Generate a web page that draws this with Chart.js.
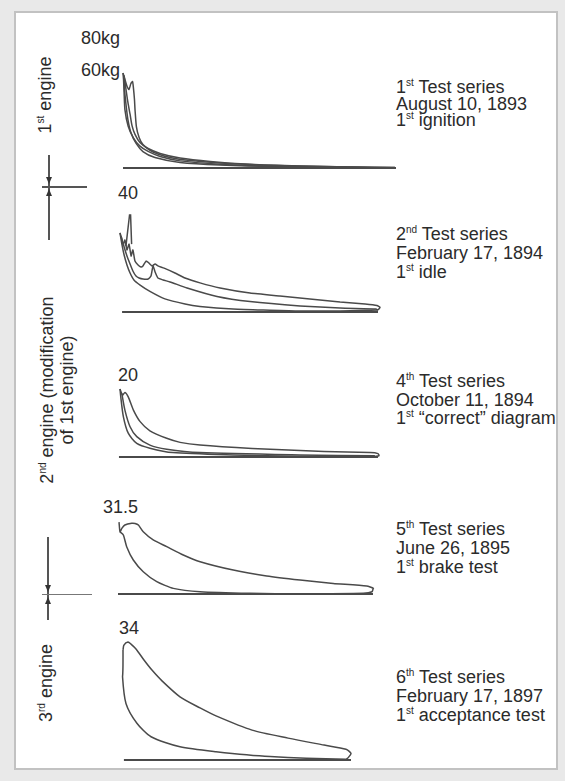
<!DOCTYPE html>
<html><head><meta charset="utf-8">
<script src="https://cdn.jsdelivr.net/npm/chart.js@4.4.1/dist/chart.umd.min.js"></script>
<style>
html,body{margin:0;padding:0;}
body{width:565px;height:781px;background:#e9e9e9;position:relative;overflow:hidden;font-family:"Liberation Sans",Arial,sans-serif;color:#2b2b2b;}
#frame{position:absolute;left:14px;top:11px;width:540px;height:755px;background:#fff;border:2px solid #c2c2c2;}
.t{position:absolute;font-size:18px;line-height:18px;white-space:nowrap;}
.blk{position:absolute;left:396px;font-size:18px;white-space:nowrap;}
sup{font-size:10px;line-height:0;vertical-align:0;position:relative;top:-7px;}
canvas{position:absolute;}
.rot{position:absolute;transform:rotate(-90deg);transform-origin:50% 50%;text-align:center;font-size:18px;white-space:nowrap;}
.ln{position:absolute;background:#555;}
.ad{position:absolute;width:0;height:0;border-left:3px solid transparent;border-right:3px solid transparent;border-top:7px solid #333;}
.au{position:absolute;width:0;height:0;border-left:3px solid transparent;border-right:3px solid transparent;border-bottom:7px solid #333;}
</style>
</head><body>
<div id="frame"></div>

<div class="t" style="left:81px;top:29px">80kg</div>
<div class="t" style="left:81px;top:61px">60kg</div>
<div class="t" style="left:118px;top:184px">40</div>
<div class="t" style="left:118px;top:366px">20</div>
<div class="t" style="left:103px;top:498px">31.5</div>
<div class="t" style="left:119px;top:619px">34</div>

<div class="blk" style="top:79px;line-height:16.5px">1<sup>st</sup> Test series<br>August 10, 1893<br>1<sup>st</sup> ignition</div>
<div class="blk" style="top:225px;line-height:19px">2<sup>nd</sup> Test series<br>February 17, 1894<br>1<sup>st</sup> idle</div>
<div class="blk" style="top:372px;line-height:18.5px">4<sup>th</sup> Test series<br>October 11, 1894<br>1<sup>st</sup> “correct” diagram</div>
<div class="blk" style="top:520px;line-height:19px">5<sup>th</sup> Test series<br>June 26, 1895<br>1<sup>st</sup> brake test</div>
<div class="blk" style="top:668px;line-height:19px">6<sup>th</sup> Test series<br>February 17, 1897<br>1<sup>st</sup> acceptance test</div>

<div class="rot" style="left:-15px;top:86px;width:120px;height:18px;line-height:18px">1<sup>st</sup> engine</div>
<div class="rot" style="left:-53px;top:370px;width:220px;height:40px;line-height:20px">2<sup>nd</sup> engine (modification<br>of 1st engine)</div>
<div class="rot" style="left:-14px;top:674px;width:120px;height:18px;line-height:18px">3<sup>rd</sup> engine</div>

<!-- pressure-scale markers -->
<div class="ln" style="left:48px;top:155px;width:1.5px;height:85px"></div>
<div class="ln" style="left:42px;top:186px;width:45px;height:1.5px"></div>
<div class="ad" style="left:46px;top:177px"></div>
<div class="au" style="left:46px;top:189px"></div>
<div class="ln" style="left:47px;top:537px;width:1.5px;height:83px"></div>
<div class="ln" style="left:42px;top:594px;width:50px;height:1.2px;background:#777"></div>
<div class="ad" style="left:45px;top:585px"></div>
<div class="au" style="left:45px;top:597px"></div>

<script>
// volume (% of stroke) , pressure (kg/cm²) pairs
const atmos = [[0,0],[100,0]];

// 1st test series, August 10, 1893 (scale 60)
const p1ExpA = [[0,60],[0.7,55.9],[1.5,51.5],[2.2,49.6],[2.9,53.4],[3.5,54.6],[3.8,50.9],[4.2,43.3],[4.4,36.9],[4.9,26.2],[5.9,19.3],[7.3,14.8],[9.9,11.1],[12.5,9.0],[17.2,6.6],[24.5,4.7],[35.5,3.2],[50.2,1.9],[68.5,1.1],[86.8,0.6],[99.6,0.3]];
const p1ComA = [[99.6,0.3],[83.2,0.2],[64.8,0.6],[50.2,1.2],[35.5,2.3],[20.9,4.5],[13.6,7.3],[9.2,10.5],[6.2,13.8],[3.8,19.1],[1.9,26.4],[0.7,36.9],[0.4,47.7],[0.2,55.9],[0,60]];
const p1ExpB = [[0.4,58.4],[1.1,49.6],[1.8,41.4],[2.6,33.8],[3.3,26.8],[4.4,21.2],[6.2,16.1],[9.2,12.3],[13.6,9.2],[20.9,6.3],[31.9,4.1],[46.5,2.3],[64.8,1.2],[83.2,0.6],[98.9,0.2]];
const p1ComB = [[98.9,0.2],[57.5,0.9],[35.5,1.9],[20.9,3.5],[11.7,6.6],[7.3,10.4],[4.8,15.5],[2.9,22.4],[1.8,30.6],[1.1,40.1],[0.5,50.9],[0.4,58.4]];

// 2nd test series, February 17, 1894 (scale 40)
const p2ExpA = [[0,32.6],[0.6,30.5],[1.2,27.6],[1.9,29.7],[2.7,25.6],[3.5,28.0],[4.3,23.1],[5.0,25.6],[5.8,21.0],[7.0,19.4],[8.1,18.6],[8.9,19.0],[10.1,21.0],[11.2,20.2],[12.4,19.0],[13.6,19.8],[14.7,19.0],[17.1,18.1],[21.3,16.1],[25.2,14.0],[31.0,12.0],[38.8,9.9],[50.4,7.8],[62.0,6.6],[73.6,5.4],[85.3,4.1],[95.0,3.3],[99.6,2.7],[100.8,1.9],[100,0.8]];
const p2Com = [[100,0.8],[85.3,0.4],[69.8,0.4],[58.1,0.7],[43.8,1.2],[31.0,2.3],[25.2,3.3],[17.4,5.4],[11.6,8.5],[7.8,11.1],[5.4,13.2],[3.9,16.1],[2.7,19.4],[1.6,23.5],[0.8,27.6],[0,32.6]];
const p2ExpB = [[0.4,31.3],[1.6,26.8],[2.7,23.1],[3.9,19.8],[5.0,16.9],[6.2,14.8],[7.4,14.0],[8.9,13.6],[10.9,13.6],[12.0,14.8],[12.8,19.0],[13.6,16.5],[14.7,14.0],[16.7,13.2],[19.4,12.4],[26.0,9.9],[37.6,6.4],[50.4,4.3],[69.8,2.5],[85.3,1.6],[99.2,1.2],[100,0.8]];
const p2Spike = [[2.3,27.2],[3.7,40],[4.1,40],[4.5,28.0]];

// 4th test series, October 11, 1894 (scale 20)
const p3Exp = [[0,20],[1.0,18.2],[1.9,19.0],[3.2,17.7],[5.2,13.8],[7.8,10.4],[11.6,7.7],[18.1,5.5],[23.3,4.3],[31.0,3.5],[51.2,2.5],[69.8,1.9],[79.1,1.6],[96.9,1.3],[100,1.0],[100.4,0.4],[98.8,0.15]];
const p3Com = [[98.8,0.15],[69.8,0.2],[43.8,0.6],[20.5,1.3],[11.6,2.6],[6.5,4.0],[3.2,7.0],[1.3,11.9],[0.3,17.7],[0,20]];
const p3Mid = [[0.7,18.7],[1.9,13.8],[3.9,8.9],[6.5,6.0],[11.6,3.5],[18.1,2.3],[31.0,1.3],[69.8,0.6],[98.8,0.35]];
const p3Atm = [[-0.4,0],[100,0]];

// 5th test series, June 26, 1895 (scale 31.5)
const p4Loop = [[0.4,31.9],[0.8,27.5],[1.5,29.1],[2.7,30.6],[5.4,31.4],[6.7,31.3],[8.0,30.6],[9.9,27.6],[13.8,24.0],[19.1,21.0],[25.6,17.3],[32.2,14.3],[45.2,10.6],[58.3,8.0],[71.4,6.2],[84.4,4.7],[97.5,3.5],[100.1,2.5],[99.6,1.0],[96.2,0.3],[71.4,0.1],[51.8,0.3],[32.2,1.0],[21.7,2.5],[15.2,5.5],[9.9,9.9],[6.0,15.1],[3.4,21.0],[2.1,26.2],[0.8,27.5]];

// 6th test series, February 17, 1897 (scale 34)
const p5Exp = [[0,31.7],[0.4,33.1],[2.2,34.0],[3.5,33.4],[5.7,32.0],[9.2,28.8],[12.7,25.9],[17.1,22.8],[25.0,18.2],[33.8,15.0],[40.8,12.7],[56.6,8.6],[72.4,6.3],[88.2,4.3],[97.8,3.1],[100,1.9],[98.7,0.6]];
const p5Com = [[98.7,0.6],[97.8,0.2],[64.5,1.0],[40.8,2.4],[25.0,3.8],[12.3,6.7],[6.1,10.6],[1.3,16.3],[-0.2,24.0],[0,28.8],[0,31.7]];
const p5Atm = [[0.4,0],[100,0]];

const INK = '#4a4a4a';
function ds(pairs, tension, w){
  return {data: pairs.map(p=>({x:p[0],y:p[1]})), showLine:true, pointRadius:0, borderColor:INK,
          borderWidth:w||1.5, tension:tension, clip:false, fill:false};
}
function panel(x0, x1, yTop, yBase, ymax, sets){
  const pad = 10;
  const c = document.createElement('canvas');
  const w = (x1-x0)+2*pad, h = (yBase-yTop)+2*pad;
  c.width = w; c.height = h;
  c.style.left = (x0-pad)+'px'; c.style.top = (yTop-pad)+'px';
  c.style.width = w+'px'; c.style.height = h+'px';
  document.body.appendChild(c);
  new Chart(c, {
    type:'scatter',
    data:{datasets:sets},
    options:{responsive:false, animation:false, devicePixelRatio:1, events:[],
      layout:{padding:pad},
      plugins:{legend:{display:false}, tooltip:{enabled:false}},
      scales:{x:{type:'linear', display:false, min:0, max:100},
              y:{type:'linear', display:false, min:0, max:ymax}}}
  });
}

panel(123, 396, 73, 168, 60, [ds(atmos,0,1.8), ds(p1ExpA,0.2), ds(p1ComA,0.2), ds(p1ExpB,0.25), ds(p1ComB,0.25)]);
panel(120, 378, 215, 312, 40, [ds([[0.8,0],[100,0]],0,1.8), ds(p2ExpA,0.15), ds(p2Com,0.25), ds(p2ExpB,0.15), ds(p2Spike,0)]);
panel(120, 378, 389, 457, 20, [ds(p3Atm,0,1.8), ds(p3Exp,0.2), ds(p3Com,0.25), ds(p3Mid,0.25)]);
panel(118, 373, 523, 594, 31.5, [ds(atmos,0,1.8), ds(p4Loop,0.2)]);
panel(123, 351, 642, 760, 34, [ds(p5Atm,0,1.8), ds(p5Exp,0.25), ds(p5Com,0.25)]);
</script>
</body></html>
